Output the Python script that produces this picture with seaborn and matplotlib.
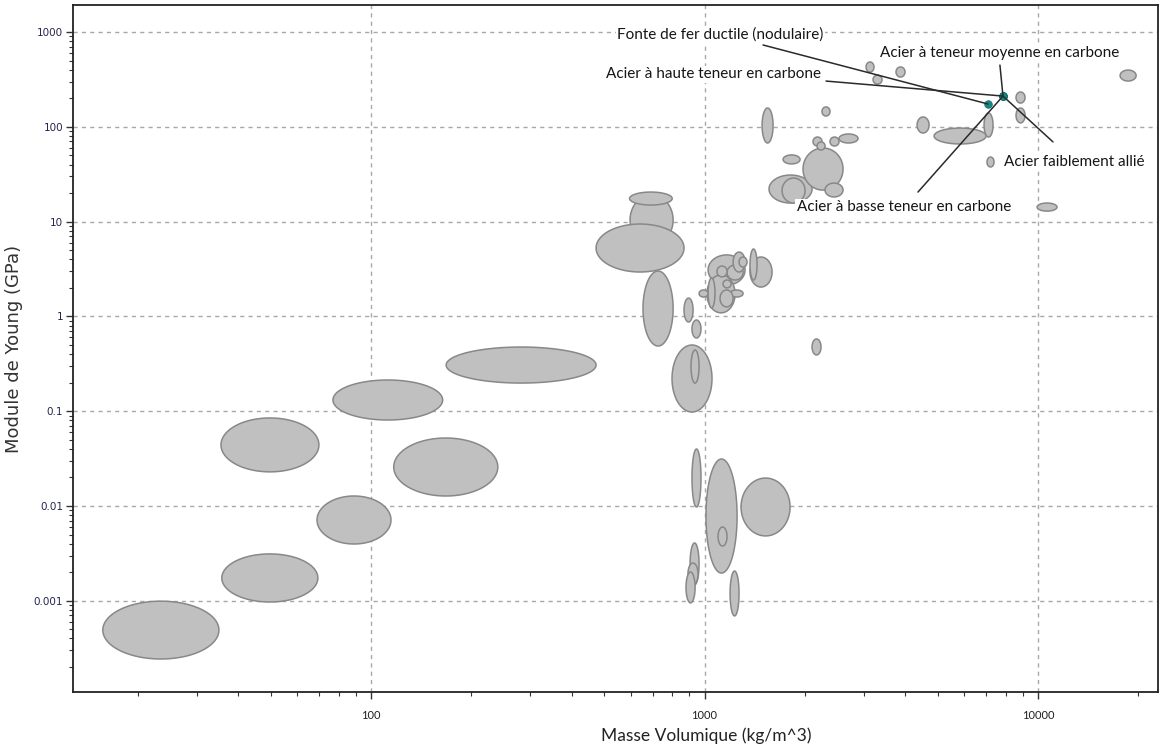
import numpy as np
import pandas as pd
import matplotlib
matplotlib.use("Agg")
import matplotlib.pyplot as plt
import seaborn as sns

# ---------------- data (material property ranges) ----------------
dens_lo = [15.7, 35.7, 68.9, 35.5, 117, 76.9, 168,
           598, 596, 473, 654, 868, 917, 799, 911,
           917, 1010, 1098, 1287, 905, 892, 880, 1193, 2101,
           1025, 1017, 1369, 1168, 1025, 963, 1193, 1113, 1136, 1090, 1218, 1269, 1369,
           1488, 2250, 3050, 3201, 3751, 4338,
           1561, 1708, 1974, 2298, 1720, 2115, 2175, 2378, 2531,
           4878, 6888, 8590, 8590, 7030, 17620, 9932]
dens_hi = [35.0, 69.3, 114.8, 69.8, 240, 164, 473,
           805, 800, 868, 805, 924, 976, 1053, 963,
           976, 1252, 1168, 1805, 963, 956, 937, 1269, 2235,
           1323, 1235, 1594, 1305, 1075, 1025, 1305, 1218, 1201, 1168, 1323, 1341, 1437,
           1605, 2378, 3222, 3406, 3992, 4713,
           2101, 2002, 2602, 2602, 1934, 2250, 2298, 2531, 2886,
           6985, 7329, 9141, 9141, 7380, 19680, 11400]
mod_lo = [0.000243, 0.00097, 0.00397, 0.0229, 0.01274, 0.0807, 0.198,
          5.66, 14.96, 2.94, 0.487, 0.873, 0.592, 0.098, 0.198,
          0.00975, 0.00196, 0.00378, 0.00483, 0.00147, 0.00147, 0.00095, 0.000692, 0.392,
          2.14, 1.09, 2.04, 2.42, 1.23, 1.60, 1.60, 1.26, 2.0, 2.61, 2.94, 3.32, 2.42,
          67.5, 130, 378, 282, 335, 86,
          15.7, 15.7, 21.5, 18.2, 40.6, 62.7, 56.9, 62.7, 67.5,
          65.9, 78, 178, 110, 37.7, 304, 12.9]
mod_hi = [0.00099, 0.00312, 0.01274, 0.0848, 0.0521, 0.2133, 0.475,
          19.1, 20.5, 9.43, 3.01, 1.56, 0.916, 0.499, 0.442,
          0.0399, 0.0313, 0.006, 0.0197, 0.00407, 0.0025, 0.00201, 0.00206, 0.578,
          4.45, 2.74, 4.23, 3.48, 2.54, 1.90, 1.90, 1.90, 2.42, 3.40, 4.77, 4.23, 5.14,
          158, 162, 483, 351, 428, 127,
          31, 28.8, 59.8, 25.5, 50.5, 78, 69.2, 78, 84,
          97, 140, 233, 158, 48, 397, 15.7]

# highlighted materials
mat_names = ["Fonte de fer ductile (nodulaire)", "Acier à haute teneur en carbone",
             "Acier à teneur moyenne en carbone", "Acier faiblement allié",
             "Acier à basse teneur en carbone"]
mat_dens = [7080, 7850, 7850, 7850, 7850]
mat_mod = [174, 211, 211, 211, 211]

x_ticks = [100, 1000, 10000]
x_ticklabels = ["100", "1000", "10000"]
y_ticks = [0.001, 0.01, 0.1, 1, 10, 100, 1000]
y_ticklabels = ["0.001", "0.01", "0.1", "1", "10", "100", "1000"]

# ---------------- style ----------------
sns.set_theme(style="white")
NARROW = ["Lato", "DejaVu Sans"]
plt.rcParams["font.family"] = NARROW

fig = plt.figure(figsize=(11.59, 7.51), dpi=100)
ax = fig.add_axes([73 / 1159, 1 - 692 / 751, (1158 - 73) / 1159, (692 - 5) / 751])
ax.set_xscale("log")
ax.set_yscale("log")
ax.set_xlim(12.78, 22890)
ax.set_ylim(1.09e-4, 1928)

# ellipses drawn in log space through the axis scales
t = np.linspace(0, 2 * np.pi, 160)
for i, (dl, dh, ml, mh) in enumerate(zip(dens_lo, dens_hi, mod_lo, mod_hi)):
    cx = (np.log10(dl) + np.log10(dh)) / 2
    rx = (np.log10(dh) - np.log10(dl)) / 2
    cy = (np.log10(ml) + np.log10(mh)) / 2
    ry = (np.log10(mh) - np.log10(ml)) / 2
    xs = 10 ** (cx + rx * np.cos(t))
    ys = 10 ** (cy + ry * np.sin(t))
    ax.fill(xs, ys, facecolor="#c0c0c0", edgecolor="#888888", lw=1.1, zorder=2 + i * 0.01)

df = pd.DataFrame({"dens": mat_dens, "mod": mat_mod})
sns.scatterplot(data=df, x="dens", y="mod", ax=ax, color="#138a86", s=30,
                edgecolor="#0d6d6a", linewidth=0.5, zorder=5, legend=False)

# annotation lines (offsets in points from the marked material)
line_off = [(-162, 42.5), (-127.4, 10.8), (-2.2, 22.3), (36, -33), (-61.2, -69.1)]
text_off = [(-267, 49.7), (-285.8, 15.8), (-88.6, 31), (0.5, -47.5), (-148.3, -80)]
for name, d, m, lo, to in zip(mat_names, mat_dens, mat_mod, line_off, text_off):
    ax.annotate("", xy=(d, m), xytext=lo, textcoords="offset points",
                arrowprops=dict(arrowstyle="-", color="#2a2a2a", lw=1.1,
                                shrinkA=0, shrinkB=0), zorder=6)
    ax.annotate(name, xy=(d, m), xytext=to, textcoords="offset points",
                ha="left", va="center", fontsize=11, color="#151515",
                bbox=dict(boxstyle="square,pad=0.1", fc="white", ec="none"),
                zorder=7)

# axes, grid, ticks
ax.set_axisbelow(True)
ax.grid(True, which="major", ls=(0, (3, 3)), color="#a8a8a8", lw=1.0)
ax.set_xticks(x_ticks)
ax.set_xticklabels(x_ticklabels)
ax.set_yticks(y_ticks)
ax.set_yticklabels(y_ticklabels)
ax.xaxis.set_minor_locator(matplotlib.ticker.LogLocator(base=10, subs=np.arange(2, 10)))
ax.yaxis.set_minor_locator(matplotlib.ticker.LogLocator(base=10, subs=np.arange(2, 10)))
ax.xaxis.set_minor_formatter(matplotlib.ticker.NullFormatter())
ax.yaxis.set_minor_formatter(matplotlib.ticker.NullFormatter())
ax.tick_params(axis="both", which="major", direction="out", length=5, width=1,
               color="#333333", bottom=True, left=True)
ax.tick_params(axis="both", which="minor", direction="out", length=3, width=0.8,
               color="#333333", bottom=True, left=True)
ax.tick_params(axis="x", labelsize=8, labelcolor="#202020", pad=8)
for lab in ax.get_yticklabels():
    lab.set_family("DejaVu Sans")
    lab.set_fontsize(7.5)
    lab.set_color("#24244e")
ax.tick_params(axis="y", pad=2)
for s in ax.spines.values():
    s.set_color("#222222")
    s.set_linewidth(1.3)

ax.set_xlabel("Masse Volumique (kg/m^3)", fontsize=12.5, color="#222222", labelpad=4)
ax.xaxis.set_label_coords((706 - 73) / 1085, -0.052)
ax.set_ylabel("Module de Young (GPa)", fontsize=13, color="#333333",
              family="DejaVu Sans", labelpad=8)

fig.savefig("out.png", dpi=100, facecolor="white")
